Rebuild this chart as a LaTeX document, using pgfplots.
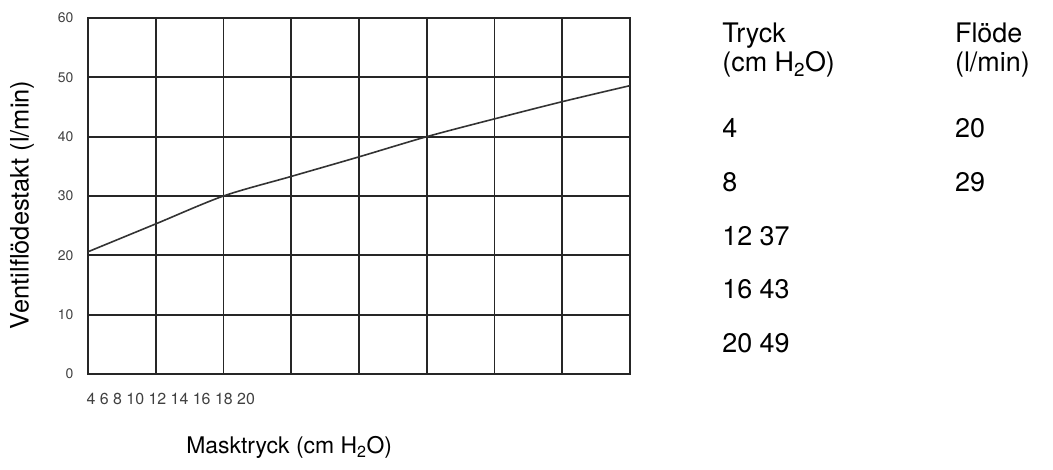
\documentclass[border=0pt]{standalone}
\usepackage{fontspec}
\setmainfont{TeX Gyre Heros}
\usepackage{pgfplots}
\pgfplotsset{compat=1.18}

\begin{document}
\begin{tikzpicture}
\useasboundingbox (-88bp,-96bp) rectangle (965bp,374bp);
\begin{axis}[
    scale only axis,
    width=542bp, height=356bp,
    xmin=4, xmax=20,
    ymin=0, ymax=60,
    xtick={4,6,...,20},
    xticklabels={},
    ytick={0,10,...,60},
    major tick length=0pt,
    grid=major,
    grid style={black!85, line width=1.9bp},
    axis line style={black!85, line width=1.9bp},
    /pgf/number format/assume math mode=true,
    yticklabel style={font=\fontsize{14}{16}\selectfont, text=black!75, xshift=-11bp},
    xlabel={Masktryck (cm H\textsubscript{2}O)},
    xlabel style={font=\fontsize{23}{27}\selectfont, anchor=base west,
        at={(axis description cs:0.175,-0.2247)}},
    ylabel={Ventilflödestakt (l/min)},
    ylabel style={font=\fontsize{25.5}{29}\selectfont, anchor=center,
        at={(axis description cs:-0.1218,0.475)}},
    clip=false,
]
\addplot[black!80, line width=1.6bp, smooth] coordinates {
    (4,20.6) (6,25.3) (8,30.0) (10,33.3) (12,36.6)
    (14,40.0) (16,43.0) (18,45.9) (20,48.6)};

% crammed tick label row under the axis
\node[anchor=base west, font=\fontsize{16}{18}\selectfont, text=black!75]
    at (axis description cs:-0.0092,-0.087) {4 6 8 10 12 14 16 18 20};

% table to the right
\begin{scope}[every node/.style={anchor=base west, font=\fontsize{27}{31}\selectfont, inner sep=0pt}]
\node at (axis cs:22.72,55.8) {Tryck};
\node at (axis cs:22.72,50.9) {(cm H\textsubscript{2}O)};
\node at (axis cs:29.59,55.8) {Flöde};
\node at (axis cs:29.59,50.9) {(l/min)};
\node at (axis cs:22.72,39.8) {4};
\node at (axis cs:29.59,39.8) {20};
\node at (axis cs:22.72,30.7) {8};
\node at (axis cs:29.59,30.7) {29};
\node at (axis cs:22.72,21.7) {12 37};
\node at (axis cs:22.72,12.8) {16 43};
\node at (axis cs:22.72,3.7) {20 49};
\end{scope}
\end{axis}
\end{tikzpicture}
\end{document}
